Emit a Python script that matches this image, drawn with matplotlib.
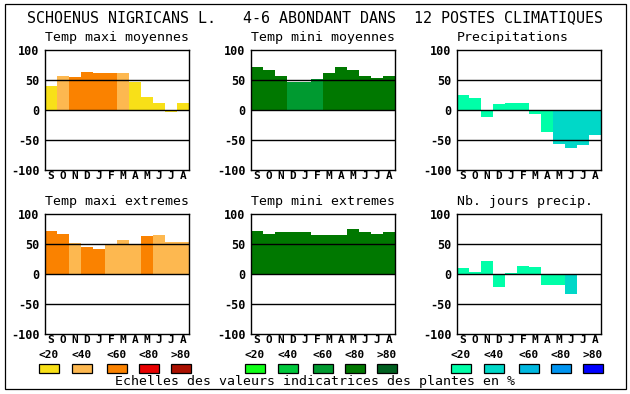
import numpy as np
import matplotlib
matplotlib.use("Agg")
import matplotlib.pyplot as plt
from matplotlib.patches import Rectangle

W, H = 630, 394

months = ["S", "O", "N", "D", "J", "F", "M", "A", "M", "J", "J", "A"]
scale_labels = ["<20", "<40", "<60", "<80", ">80"]

# colour scales (classes 0..4)
temp_max_colors = ["#f8e018", "#fdb850", "#fa8200", "#e80000", "#aa1000"]
temp_min_colors = ["#10ff18", "#00c83c", "#009a30", "#007800", "#006020"]
precip_colors = ["#00ffa8", "#00d8c8", "#00b8e0", "#0094f0", "#0000ff"]

# values (%)
tmax_moy = [40, 57, 55, 64, 61, 62, 62, 46, 22, 12, -4, 11]
tmax_moy_cls = [0, 1, 2, 2, 2, 2, 1, 0, 0, 0, 0, 0]
tmin_moy = [71, 66, 57, 46, 47, 52, 62, 71, 66, 56, 54, 56]
tmin_moy_cls = [3, 3, 3, 2, 2, 2, 3, 3, 3, 3, 3, 3]
precip = [25, 20, -11, 10, 12, 12, -6, -36, -56, -63, -58, -41]
precip_cls = [0, 0, 0, 0, 0, 0, 0, 0, 1, 1, 1, 1]
tmax_ext = [72, 67, 52, 45, 42, 50, 57, 50, 64, 65, 54, 54]
tmax_ext_cls = [2, 2, 1, 2, 2, 1, 1, 1, 2, 1, 1, 1]
tmin_ext = [72, 67, 70, 70, 70, 65, 65, 65, 75, 70, 67, 70]
tmin_ext_cls = [3] * 12
nb_jours = [10, 4, 22, -21, 2, 14, 12, -18, -18, -34, 0, 0]
nb_jours_cls = [0, 0, 0, 0, 0, 0, 0, 0, 0, 1, 0, 0]

panels = [
    ("Temp maxi moyennes", tmax_moy, tmax_moy_cls, temp_max_colors),
    ("Temp mini moyennes", tmin_moy, tmin_moy_cls, temp_min_colors),
    ("Precipitations", precip, precip_cls, precip_colors),
    ("Temp maxi extremes", tmax_ext, tmax_ext_cls, temp_max_colors),
    ("Temp mini extremes", tmin_ext, tmin_ext_cls, temp_min_colors),
    ("Nb. jours precip.", nb_jours, nb_jours_cls, precip_colors),
]

mono = "DejaVu Sans Mono"
fig = plt.figure(figsize=(W / 100, H / 100), dpi=100)

# outer frame
fig.add_artist(Rectangle((5 / W, 1 - 389 / H), 621 / W, 385 / H, transform=fig.transFigure,
                         fill=False, lw=0.9, ec="black"))

lefts = [45, 251, 457]
tops = [50, 214]
aw, ah = 144, 120

for i, (title, vals, cls, cols) in enumerate(panels):
    x0 = lefts[i % 3]
    y0 = tops[i // 3]
    ax = fig.add_axes([x0 / W, 1 - (y0 + ah) / H, aw / W, ah / H])
    x = np.arange(12)
    ax.bar(x, vals, width=1.0, color=[cols[c] for c in cls], linewidth=0, zorder=1)
    for yv in (50, 0, -50):
        ax.axhline(yv, color="black", lw=1.0, zorder=3)
    ax.set_xlim(-0.5, 11.5)
    ax.set_ylim(-100, 100)
    ax.set_yticks([100, 50, 0, -50, -100])
    ax.set_yticklabels(["100", "50", "0", "-50", "-100"], family=mono,
                       fontweight="bold", fontsize=8.5)
    ax.set_xticks(x)
    ax.set_xticklabels(months, family=mono, fontweight="bold", fontsize=8)
    ax.tick_params(length=0, axis="y", pad=4)
    ax.tick_params(length=0, axis="x", pad=0.5)
    for s in ax.spines.values():
        s.set_linewidth(1.0)
    fig.text(x0 / W, 1 - (y0 - 12) / H, title, family=mono, fontsize=9.5,
             ha="left", va="center")

    if i >= 3:
        offs = [-6, 27, 62, 94, 126]
        for k, o in enumerate(offs):
            bx = x0 + o
            fig.text((bx + 10) / W, 1 - 355 / H, scale_labels[k], family=mono,
                     fontweight="bold", fontsize=8, ha="center", va="center")
            fig.add_artist(Rectangle((bx / W, 1 - 373 / H), 20 / W, 9 / H,
                                     transform=fig.transFigure, fc=cols[k],
                                     ec="black", lw=0.9))

fig.text(27 / W, 1 - 18 / H,
         "SCHOENUS NIGRICANS L.   4-6 ABONDANT DANS  12 POSTES CLIMATIQUES",
         family=mono, fontsize=10.8, ha="left", va="center")
fig.text(315 / W, 1 - 382 / H,
         "Echelles des valeurs indicatrices des plantes en %",
         family=mono, fontsize=9.5, ha="center", va="center")

fig.savefig("out.png", dpi=100)
